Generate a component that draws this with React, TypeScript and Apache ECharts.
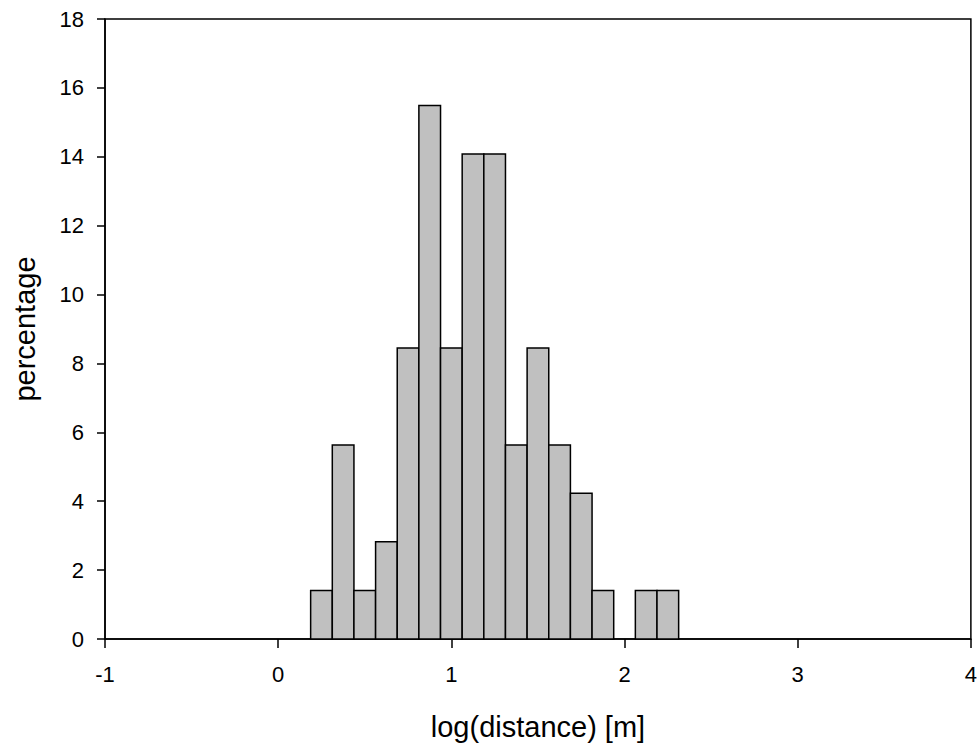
import React, { useEffect, useRef } from "react";
import * as echarts from "echarts";

const binCenters = [0.25, 0.375, 0.5, 0.625, 0.75, 0.875, 1.0, 1.125, 1.25, 1.375, 1.5, 1.625, 1.75, 1.875, 2.0, 2.125, 2.25];
const percentages = [1.41, 5.63, 1.41, 2.82, 8.45, 15.49, 8.45, 14.08, 14.08, 5.63, 8.45, 5.63, 4.23, 1.41, 0, 1.41, 1.41];
const binWidth = 0.125;
const xTicks = { min: -1, max: 4, interval: 1 };
const yTicks = { min: 0, max: 18, interval: 2 };

export default function App() {
  const ref = useRef<HTMLDivElement>(null);
  useEffect(() => {
    if (!ref.current) return;
    const chart = echarts.init(ref.current, undefined, { renderer: "svg" });
    const font = "'Liberation Sans', Arial, sans-serif";
    const data = binCenters.map((c, i) => [c, percentages[i]]);
    chart.setOption({
      animation: false,
      backgroundColor: "#fff",
      grid: {
        left: 105,
        right: 6,
        top: 19,
        bottom: 105,
        show: true,
        borderColor: "#000",
        borderWidth: 1.5,
        backgroundColor: "transparent",
      },
      xAxis: {
        type: "value",
        min: xTicks.min,
        max: xTicks.max,
        interval: xTicks.interval,
        name: "log(distance) [m]",
        nameLocation: "middle",
        nameGap: 73,
        nameTextStyle: { fontFamily: font, fontSize: 29, color: "#000" },
        axisLine: { show: true, onZero: false, lineStyle: { color: "#000", width: 1.5 } },
        axisTick: { show: true, length: 9, lineStyle: { color: "#000", width: 1.5 } },
        axisLabel: { fontFamily: font, fontSize: 22, color: "#000", margin: 24 },
        splitLine: { show: false },
      },
      yAxis: {
        type: "value",
        min: yTicks.min,
        max: yTicks.max,
        interval: yTicks.interval,
        name: "percentage",
        nameLocation: "middle",
        nameGap: 66,
        nameRotate: 90,
        nameTextStyle: { fontFamily: font, fontSize: 29, color: "#000" },
        axisLine: { show: true, onZero: false, lineStyle: { color: "#000", width: 1.5 } },
        axisTick: { show: true, length: 8, lineStyle: { color: "#000", width: 1.5 } },
        axisLabel: { fontFamily: font, fontSize: 22, color: "#000", margin: 21 },
        splitLine: { show: false },
      },
      series: [
        {
          type: "custom",
          data,
          clip: false,
          renderItem: (params: any, api: any) => {
            const c = api.value(0);
            const v = api.value(1);
            if (!v) return null;
            const p1 = api.coord([c - binWidth / 2, v]);
            const p2 = api.coord([c + binWidth / 2, 0]);
            return {
              type: "rect",
              shape: { x: p1[0], y: p1[1], width: p2[0] - p1[0], height: p2[1] - p1[1] },
              style: { fill: "#c0c0c0", stroke: "#000", lineWidth: 1.5 },
            };
          },
        },
      ],
    });
    return () => chart.dispose();
  }, []);
  return (
    <div
      ref={ref}
      style={{ position: "absolute", left: 0, top: 0, width: 980, height: 746 }}
    />
  );
}
